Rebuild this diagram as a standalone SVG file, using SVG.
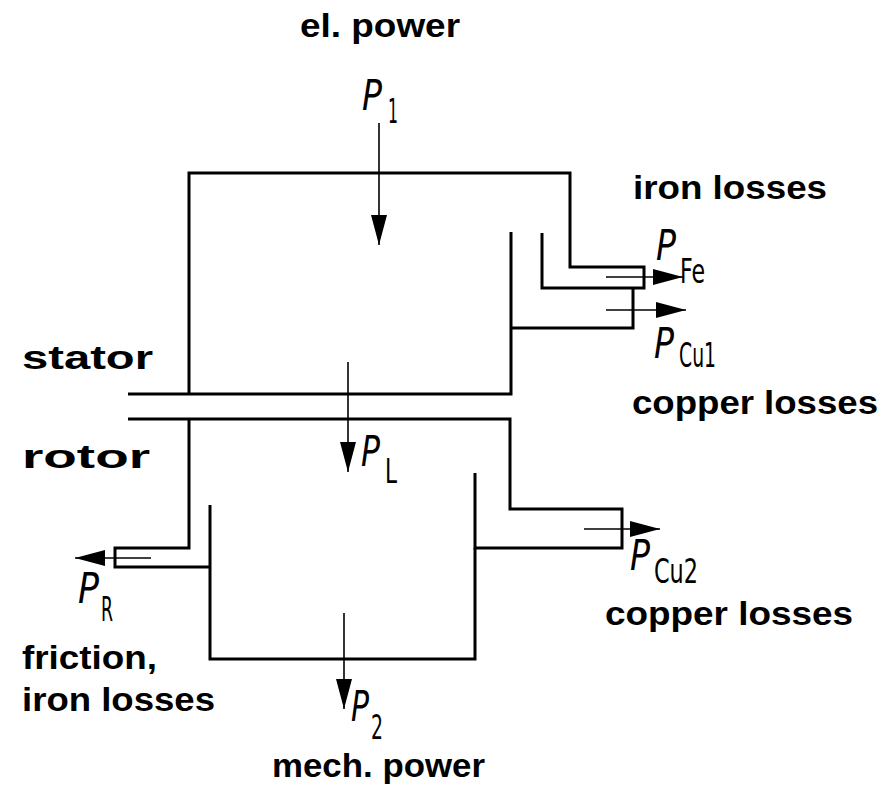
<svg xmlns="http://www.w3.org/2000/svg" width="894" height="795" viewBox="0 0 894 795">
<defs>
<style>
.frame{fill:none;stroke:#000;stroke-width:3;stroke-linejoin:miter}
.flow{fill:none;stroke:#000;stroke-width:1.6;marker-end:url(#ah)}
.lbl{font-family:"Liberation Sans",Arial,sans-serif;font-weight:bold;font-size:34px;fill:#000}
.p{font-family:"DejaVu Sans Condensed","DejaVu Sans",sans-serif;font-style:italic;font-size:42px;fill:#000}
.s{font-family:"DejaVu Sans Condensed","DejaVu Sans",sans-serif;font-size:33px;fill:#000}
</style>
<marker id="ah" markerUnits="userSpaceOnUse" markerWidth="32" markerHeight="18" refX="30" refY="8" orient="auto">
<path d="M0,0 L30,8 L0,16 Z" fill="#000"/>
</marker>
</defs>
<rect width="894" height="795" fill="#fff"/>
<g id="stator">
<path class="frame" d="M542,233 V288 H644 V267 H570 V173 H189 V394"/>
<path class="frame" d="M128,394 H511 V232"/>
<path class="frame" d="M633,288 V328 H511"/>
</g>
<g id="rotor">
<path class="frame" d="M128,419 H510 V509 H622 V548 H475 V473"/>
<path class="frame" d="M475,548 V659 H210 V505"/>
<path class="frame" d="M189,419 V548 H115 V567 H210"/>
</g>
<g id="connectors">
<path class="flow" d="M379,123 V245"/>
<path class="flow" d="M348,362 V472"/>
<path class="flow" d="M344,613 V709"/>
<path class="flow" d="M606,277 H683"/>
<path class="flow" d="M606,310 H686"/>
<path class="flow" d="M151,558 H75"/>
<path class="flow" d="M584,529 H660"/>
</g>
<g id="labels">
<text class="lbl" x="300" y="37" textLength="160" lengthAdjust="spacingAndGlyphs">el. power</text>
<text class="lbl" x="633" y="199" textLength="194" lengthAdjust="spacingAndGlyphs">iron losses</text>
<text class="lbl" x="22" y="369" textLength="131" lengthAdjust="spacingAndGlyphs">stator</text>
<text class="lbl" x="22" y="468" textLength="128" lengthAdjust="spacingAndGlyphs">rotor</text>
<text class="lbl" x="632" y="414" textLength="246" lengthAdjust="spacingAndGlyphs">copper losses</text>
<text class="lbl" x="605" y="625" textLength="248" lengthAdjust="spacingAndGlyphs">copper losses</text>
<text class="lbl" x="22" y="669" textLength="135" lengthAdjust="spacingAndGlyphs">friction,</text>
<text class="lbl" x="22" y="711" textLength="193" lengthAdjust="spacingAndGlyphs">iron losses</text>
<text class="lbl" x="272" y="777" textLength="213" lengthAdjust="spacingAndGlyphs">mech. power</text>
</g>
<g id="symbols">
<text class="p" x="362" y="110" textLength="20" lengthAdjust="spacingAndGlyphs">P</text>
<text class="s" x="388" y="123" textLength="10" lengthAdjust="spacingAndGlyphs">1</text>
<text class="p" x="656" y="260" textLength="20" lengthAdjust="spacingAndGlyphs">P</text>
<text class="s" x="680" y="283" textLength="25" lengthAdjust="spacingAndGlyphs">Fe</text>
<text class="p" x="654" y="358" textLength="20" lengthAdjust="spacingAndGlyphs">P</text>
<text class="s" x="679" y="367" textLength="37" lengthAdjust="spacingAndGlyphs">Cu1</text>
<text class="p" x="361" y="466" textLength="19" lengthAdjust="spacingAndGlyphs">P</text>
<text class="s" x="385" y="483" textLength="12" lengthAdjust="spacingAndGlyphs">L</text>
<text class="p" x="78" y="603" textLength="21" lengthAdjust="spacingAndGlyphs">P</text>
<text class="s" x="101" y="621" textLength="12" lengthAdjust="spacingAndGlyphs">R</text>
<text class="p" x="630" y="570" textLength="20" lengthAdjust="spacingAndGlyphs">P</text>
<text class="s" x="654" y="583" textLength="44" lengthAdjust="spacingAndGlyphs">Cu2</text>
<text class="p" x="351" y="721" textLength="18" lengthAdjust="spacingAndGlyphs">P</text>
<text class="s" x="371" y="739" font-size="30" textLength="12" lengthAdjust="spacingAndGlyphs">2</text>
</g>
</svg>
